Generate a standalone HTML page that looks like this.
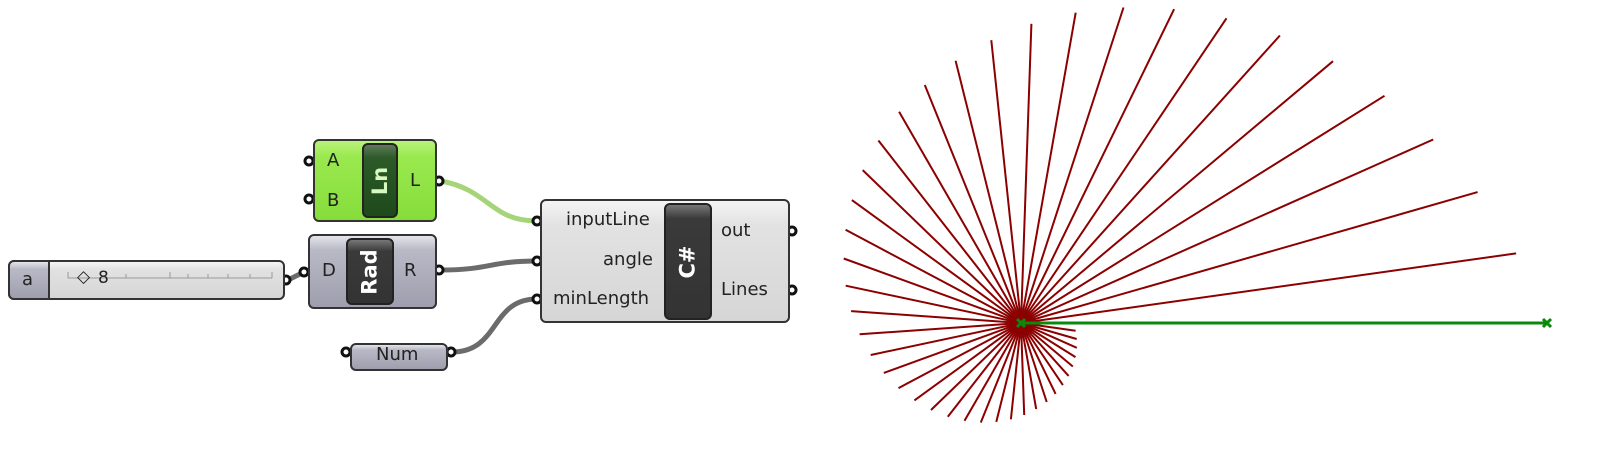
<!DOCTYPE html>
<html><head><meta charset="utf-8"><style>
body{margin:0;width:1617px;height:449px;background:#fff;overflow:hidden;position:relative;font-family:"DejaVu Sans","Liberation Sans",sans-serif}
.c{position:absolute;border:2px solid #333;border-radius:6px;box-sizing:border-box}
.g{background:linear-gradient(#b9f37a 0%,#9ae94f 20%,#86dd3a 100%)}
.gr{background:linear-gradient(#e4e4ea 0%,#b9b9c6 20%,#9e9eae 100%)}
.lt{background:linear-gradient(#f4f4f4 0%,#e2e2e2 20%,#d6d6d6 100%)}
.bx{position:absolute;border:2px solid #222;border-radius:6px;box-sizing:border-box;display:flex;align-items:center;justify-content:center}
.bx span{transform:rotate(-90deg);color:#fff;font-weight:bold;font-size:21px;white-space:nowrap}
.t{position:absolute;font-size:18px;color:#222}
</style></head><body>
<svg width="1617" height="449" style="position:absolute;left:0;top:0">
<g fill="none" stroke-width="5">
<path d="M441 181 C490 190,490 221,537 221" stroke="#a6d47a"/>
<path d="M441 270 C490 270,490 261,537 261" stroke="#6b6b6b"/>
<path d="M452 352 C500 352,490 299,537 299" stroke="#6b6b6b"/>
<path d="M286 281 L304 272" stroke="#6b6b6b"/>
</g>
<g id="fan" stroke="#8b0000" stroke-width="2"></g>
<circle cx="1021" cy="323" r="11" fill="#8b0000"/>
<line x1="1021" y1="323" x2="1547" y2="323" stroke="#0a8a0a" stroke-width="3"/>
<g stroke="#0a8a0a" stroke-width="3"><path d="M1017 319l8 8M1025 319l-8 8M1543 319l8 8M1551 319l-8 8"/></g>
<g fill="#fff" stroke="#111" stroke-width="3">
<circle cx="309" cy="161" r="4"/><circle cx="309" cy="199" r="4"/><circle cx="439" cy="181" r="4"/>
<circle cx="304" cy="272" r="4"/><circle cx="439" cy="270" r="4"/><circle cx="286" cy="280" r="4"/>
<circle cx="346" cy="352" r="4"/><circle cx="451" cy="352" r="4"/>
<circle cx="537" cy="221" r="4"/><circle cx="537" cy="261" r="4"/><circle cx="537" cy="299" r="4"/>
<circle cx="792" cy="231" r="4"/><circle cx="792" cy="290" r="4"/>
</g>
</svg>
<div class="c g" style="left:313px;top:139px;width:124px;height:83px"></div>
<div class="bx" style="left:362px;top:143px;width:36px;height:75px;background:linear-gradient(#5f7a5a 0%,#2c5a28 18%,#1f4a1c 100%)"><span style="color:#d9f7c0">Ln</span></div>
<div class="t" style="left:327px;top:150px">A</div><div class="t" style="left:327px;top:190px">B</div><div class="t" style="left:410px;top:170px">L</div>
<div class="c gr" style="left:308px;top:234px;width:129px;height:75px"></div>
<div class="bx" style="left:346px;top:238px;width:48px;height:67px;background:linear-gradient(#777 0%,#3a3a3a 18%,#333 100%)"><span>Rad</span></div>
<div class="t" style="left:322px;top:260px">D</div><div class="t" style="left:404px;top:260px">R</div>
<div class="c lt" style="left:8px;top:260px;width:277px;height:40px"></div>
<div class="c gr" style="left:8px;top:260px;width:42px;height:40px;border-radius:6px 0 0 6px"></div>
<div class="t" style="left:22px;top:269px">a</div>
<svg width="220" height="20" style="position:absolute;left:66px;top:268px"><g stroke="#999" stroke-width="1"><line x1="2" y1="10" x2="206" y2="10"/><path d="M2 4v6M40 6v4M60 6v4M104 4v6M122 6v4M142 6v4M162 6v4M184 6v4M206 4v6"/></g></svg>
<div class="t" style="left:77px;top:267px;font-size:17px;font-weight:bold">◇</div>
<div class="t" style="left:98px;top:268px;font-size:17px">8</div>
<div class="c gr" style="left:350px;top:343px;width:98px;height:28px"></div>
<div class="t" style="left:376px;top:344px">Num</div>
<div class="c lt" style="left:540px;top:199px;width:250px;height:124px"></div>
<div class="bx" style="left:664px;top:203px;width:48px;height:117px;background:linear-gradient(#777 0%,#3a3a3a 12%,#333 100%)"><span>C#</span></div>
<div class="t" style="left:566px;top:209px">inputLine</div>
<div class="t" style="left:603px;top:249px">angle</div>
<div class="t" style="left:553px;top:288px">minLength</div>
<div class="t" style="left:721px;top:220px">out</div>
<div class="t" style="left:721px;top:279px">Lines</div>
<script>
var g=document.getElementById('fan'),s='';
for(var k=1;k<=45;k++){var a=k*8*Math.PI/180,L=500*Math.pow(0.95,k-1);
s+='<line x1="1021" y1="323" x2="'+(1021+L*Math.cos(a)).toFixed(1)+'" y2="'+(323-L*Math.sin(a)).toFixed(1)+'"/>';}
g.innerHTML=s;
</script>
</body></html>
